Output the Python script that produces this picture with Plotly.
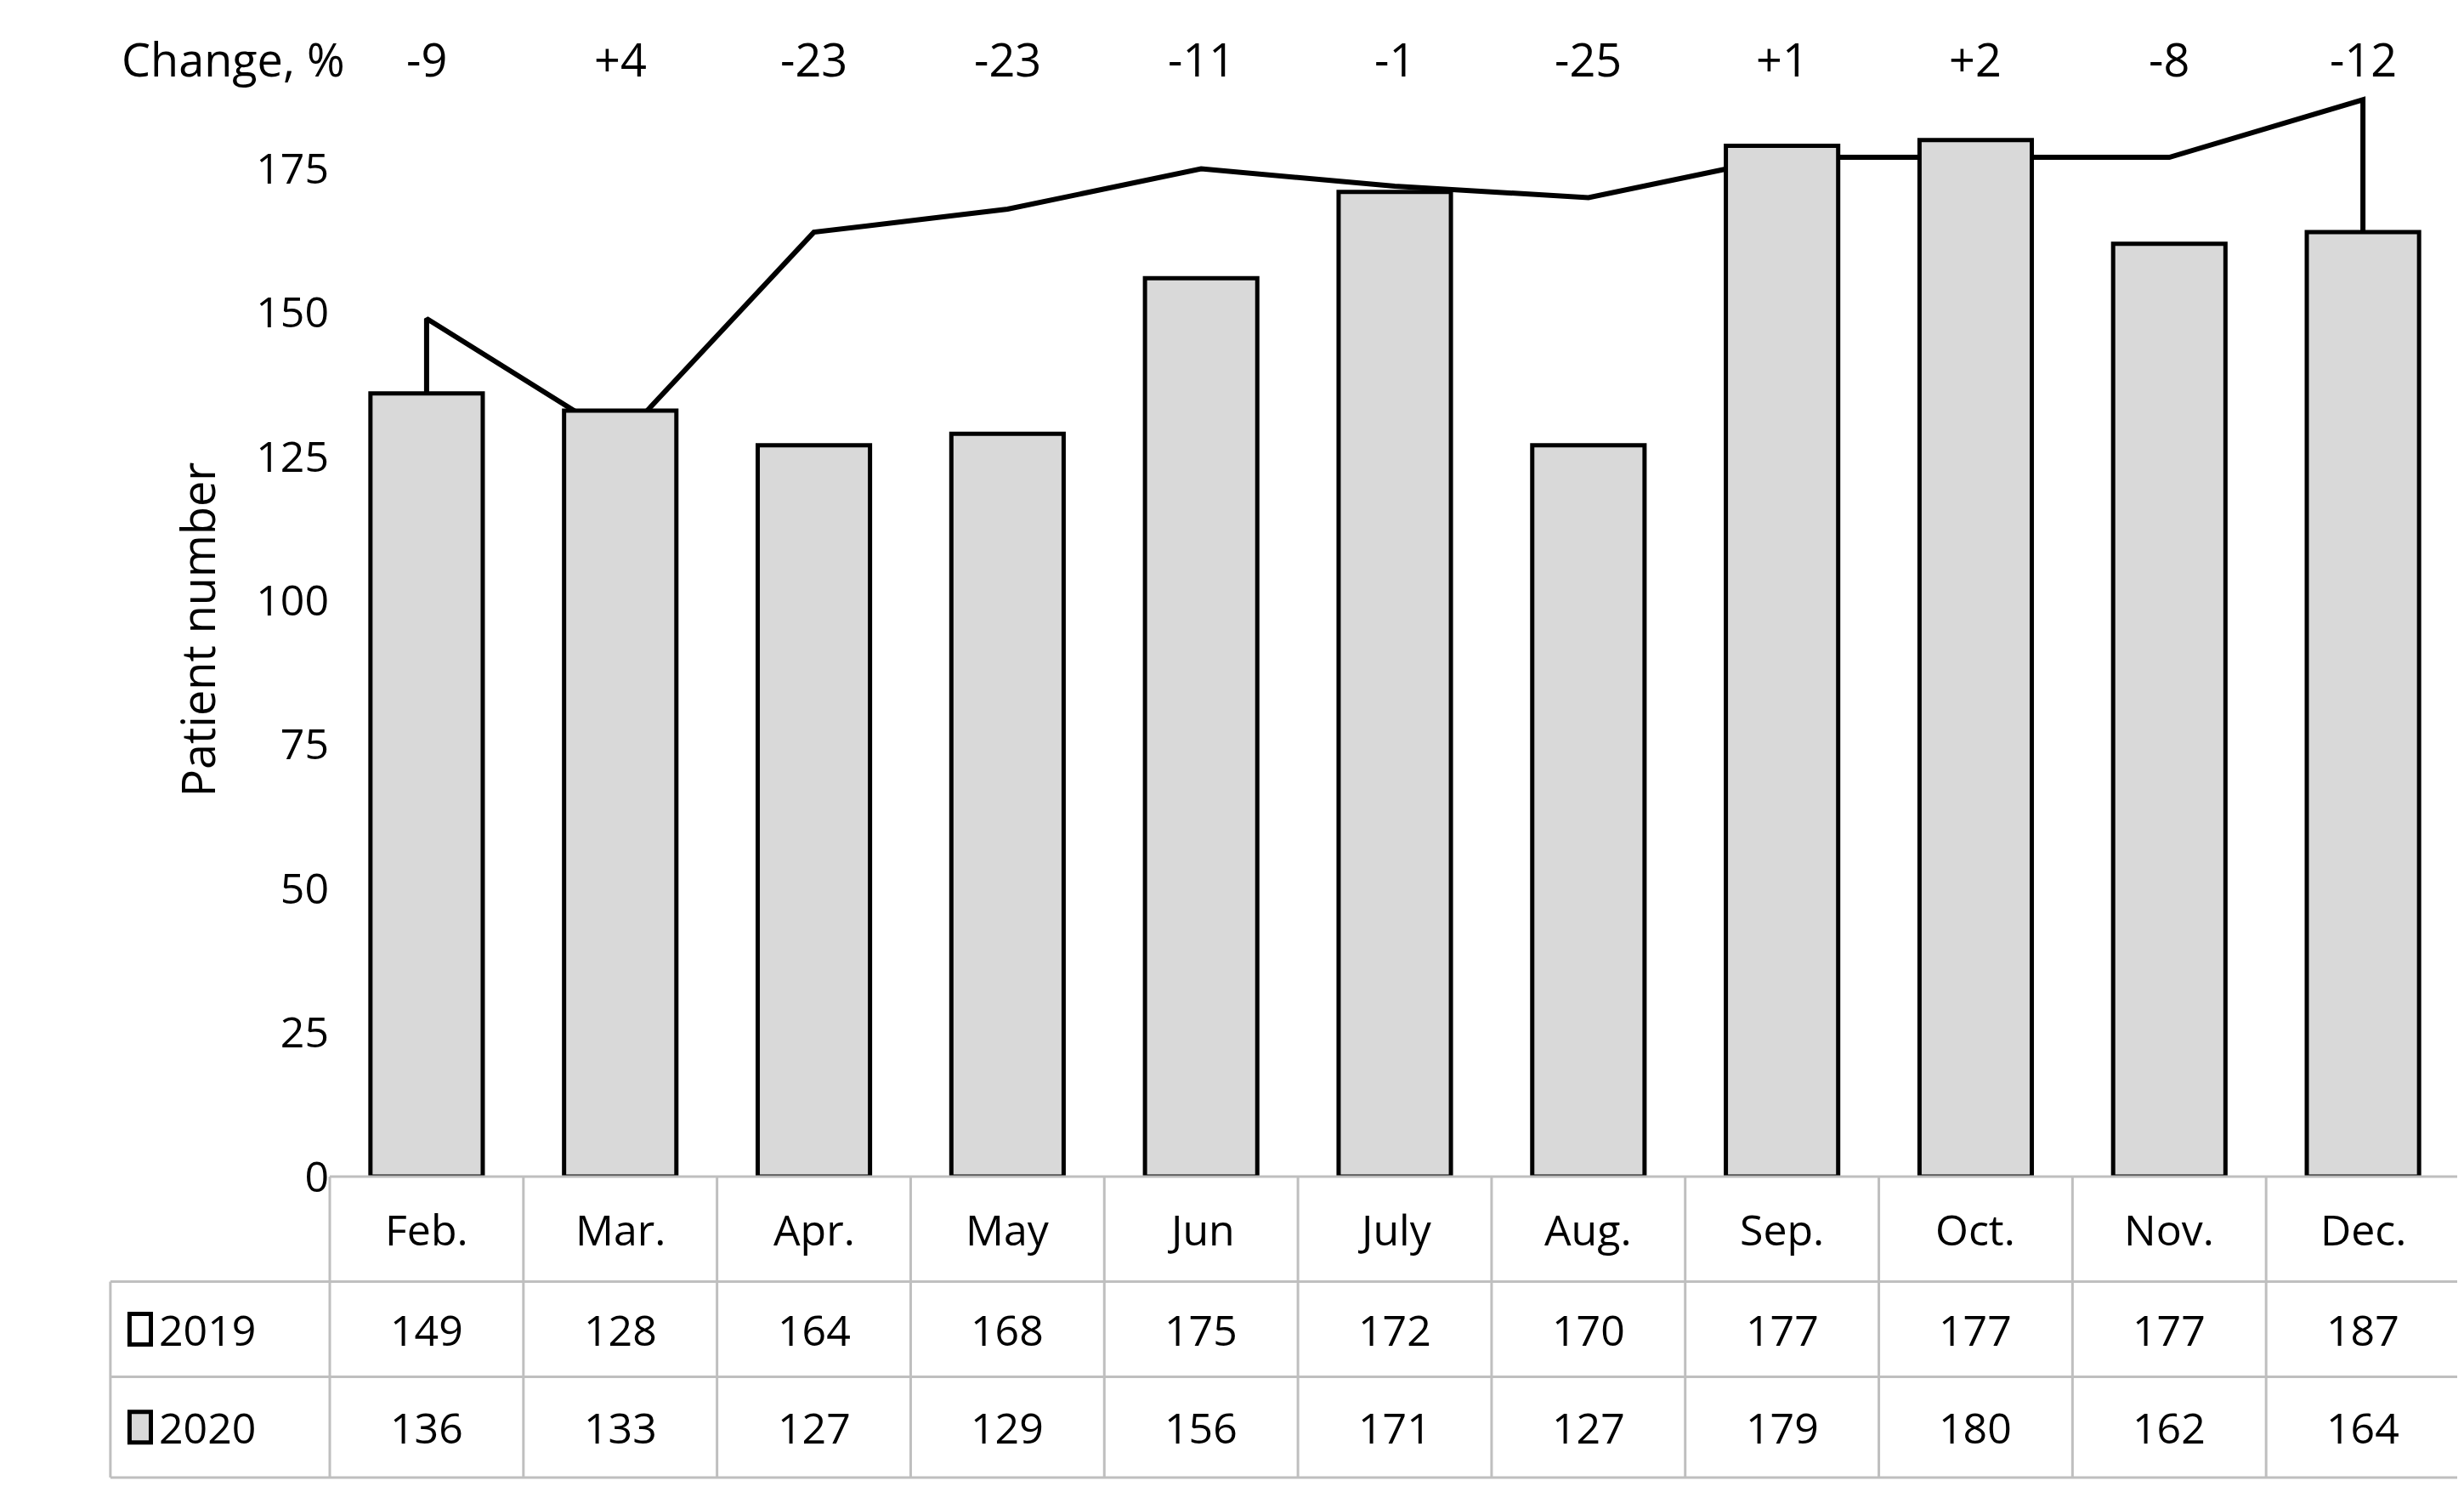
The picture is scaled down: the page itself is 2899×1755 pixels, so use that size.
import plotly.graph_objects as go

months = ["Feb.", "Mar.", "Apr.", "May", "Jun", "July", "Aug.", "Sep.", "Oct.", "Nov.", "Dec."]
y2019 = [149, 128, 164, 168, 175, 172, 170, 177, 177, 177, 187]
y2020 = [136, 133, 127, 129, 156, 171, 127, 179, 180, 162, 164]
change = ["-9", "+4", "-23", "-23", "-11", "-1", "-25", "+1", "+2", "-8", "-12"]

FONT = "Open Sans"
GRID = "#bfbfbf"

# 2019 line, with the drop lines at both ends down to the 2020 bar tops
line_x = [months[0]] + months + [months[-1]]
line_y = [y2020[0]] + y2019 + [y2020[-1]]

fig = go.Figure()
fig.add_trace(go.Scatter(x=line_x, y=line_y, mode="lines", yaxis="y",
                         line=dict(color="black", width=6), showlegend=False))
# bars on an overlaying axis so they sit in front of the line
fig.add_trace(go.Bar(x=months, y=y2020, width=0.58, yaxis="y2",
                     marker=dict(color="#d9d9d9", line=dict(color="black", width=5)),
                     showlegend=False))

shapes = []
annotations = []
n = len(months)
rows = [0.0, -0.096, -0.183, -0.275]
tab_left = -0.103
shapes.append(dict(type="line", xref="paper", yref="paper", x0=0, x1=1, y0=0, y1=0,
                   line=dict(color=GRID, width=3)))
for yy in rows[1:]:
    shapes.append(dict(type="line", xref="paper", yref="paper", x0=tab_left, x1=1, y0=yy, y1=yy,
                       line=dict(color=GRID, width=3)))
for i in range(n + 1):
    shapes.append(dict(type="line", xref="paper", yref="paper", x0=i / n, x1=i / n,
                       y0=0, y1=rows[-1], line=dict(color=GRID, width=3)))
shapes.append(dict(type="line", xref="paper", yref="paper", x0=tab_left, x1=tab_left,
                   y0=rows[1], y1=rows[-1], line=dict(color=GRID, width=3)))

for i, m in enumerate(months):
    for txt, yy in [(m, (rows[0] + rows[1]) / 2), (str(y2019[i]), (rows[1] + rows[2]) / 2),
                    (str(y2020[i]), (rows[2] + rows[3]) / 2)]:
        annotations.append(dict(x=m, xref="x", y=yy, yref="paper", text=txt, showarrow=False,
                                xanchor="center", yanchor="middle",
                                font=dict(family=FONT, size=50, color="black")))
    annotations.append(dict(x=m, xref="x", y=1.022, yref="paper", text=change[i], showarrow=False,
                            xanchor="center", yanchor="middle",
                            font=dict(family=FONT, size=54, color="black")))

annotations.append(dict(x=0.008, xref="paper", y=1.022, yref="paper", text="Change, %",
                        showarrow=False, xanchor="right", yanchor="middle",
                        font=dict(family=FONT, size=54, color="black")))

for label, fill, yy in [("2019", "white", (rows[1] + rows[2]) / 2), ("2020", "#d9d9d9", (rows[2] + rows[3]) / 2)]:
    shapes.append(dict(type="rect", xref="paper", yref="paper", x0=-0.094, x1=-0.084,
                       y0=yy - 0.014, y1=yy + 0.014, fillcolor=fill, line=dict(color="black", width=5)))
    annotations.append(dict(x=-0.081, xref="paper", y=yy, yref="paper", text=label, xanchor="left",
                            yanchor="middle", showarrow=False,
                            font=dict(family=FONT, size=50, color="black")))

fig.update_layout(
    width=2899, height=1755,
    margin=dict(l=380, r=13, t=89, b=379),
    plot_bgcolor="white", paper_bgcolor="white",
    bargap=0.42,
    shapes=shapes, annotations=annotations,
    font=dict(family=FONT, size=50, color="black"),
    yaxis2=dict(overlaying="y", range=[0, 190], visible=False),
)
fig.update_xaxes(showticklabels=False, showline=False, showgrid=False, ticks="")
fig.update_yaxes(selector=dict(overlaying=None))
fig.update_layout(yaxis=dict(range=[0, 190], tickvals=[0, 25, 50, 75, 100, 125, 150, 175],
                             showgrid=False, zeroline=False, showline=False, ticks="",
                             title=dict(text="Patient number", font=dict(family=FONT, size=54), standoff=30),
                             tickfont=dict(family=FONT, size=50)))

fig.write_html("out.html")
